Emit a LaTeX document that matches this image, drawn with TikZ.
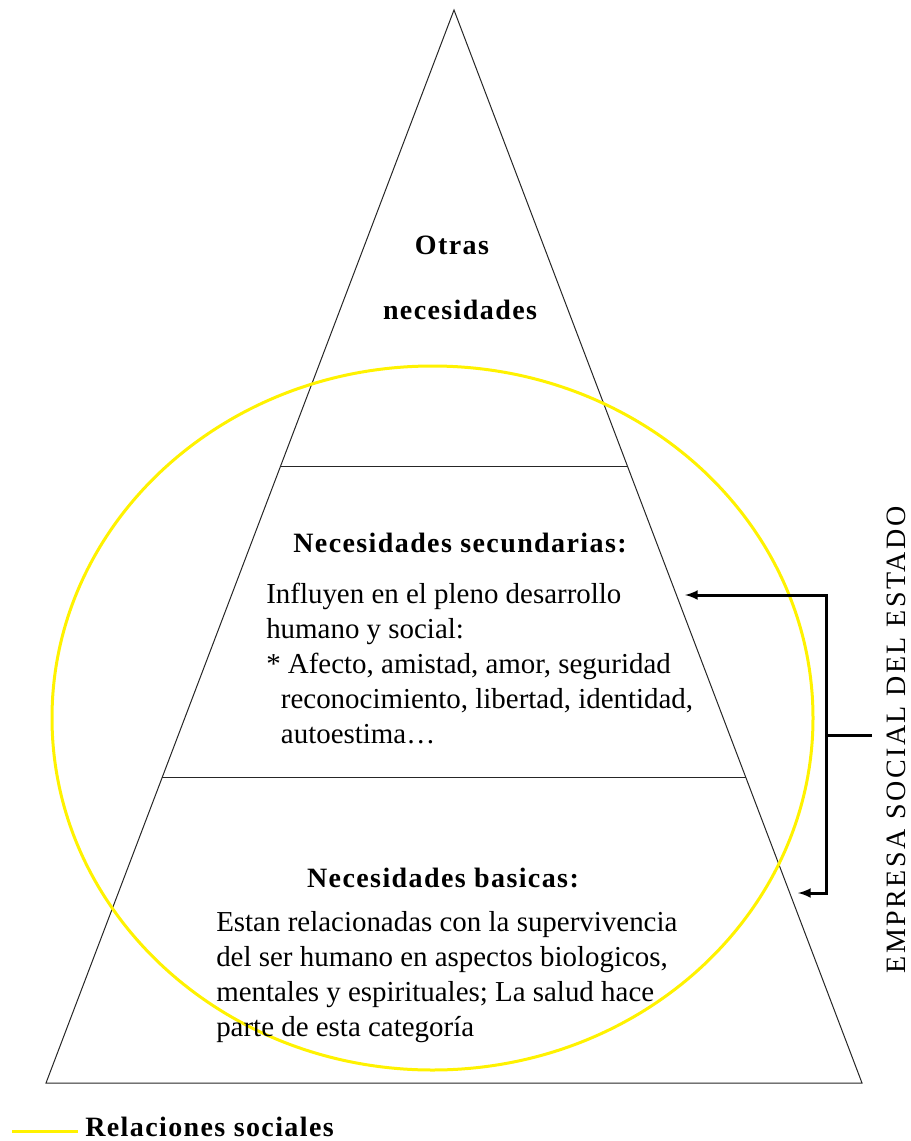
\documentclass[tikz,border=0pt]{standalone}
\usepackage{fontspec}
\setmainfont{Liberation Serif}
\usetikzlibrary{calc}
\tikzset{%
pyramid/.style={draw=black!85,line width=0.75pt},
social/.style={draw=yellow,line width=2.25pt},
service/.style={draw,line width=2.25pt,-latex},
heading/.style={font=\fontsize{21}{26}\selectfont\bfseries\addfontfeature{LetterSpace=5}, inner sep=0pt},
content/.style={font=\fontsize{21.7}{26.25}\selectfont, align=left, inner sep=0pt, anchor=north west},
agency/.style={font=\fontsize{21}{26}\selectfont\addfontfeature{LetterSpace=9}, inner sep=0pt, rotate=90}
}

\begin{document}
\begin{tikzpicture}[x=0.75pt,y=-0.75pt]
\useasboundingbox (0,0) rectangle (910,1141);
\coordinate (top)   at (454,10);
\coordinate (baseL) at (46,1083);
\coordinate (baseR) at (862,1083);
\coordinate (cut1L) at ($(top)!0.425!(baseL)$);
\coordinate (cut1R) at ($(top)!0.425!(baseR)$);
\coordinate (cut2L) at ($(top)!0.7157!(baseL)$);
\coordinate (cut2R) at ($(top)!0.7157!(baseR)$);
\coordinate (ring)  at (432.5,718);

\draw[pyramid] (top) -- (baseL) -- (baseR) -- cycle;
\draw[pyramid] (cut1L) -- (cut1R);
\draw[pyramid] (cut2L) -- (cut2R);
\draw[social] (ring) ellipse [x radius=380.5, y radius=352];

\node[heading] (otras)  at (452,245) {Otras};
\node[heading] (neces)  at (460,310) {necesidades};
\node[heading] (second) at (460,543) {Necesidades secundarias:};
\node[content] (secbody) at (266,583) {Influyen en el pleno desarrollo\\
                                       humano y social:\\
                                       * Afecto, amistad, amor, seguridad\\
                                       \hspace*{11pt}reconocimiento, libertad, identidad,\\
                                       \hspace*{11pt}autoestima\dots};
\node[heading] (basic)  at (443,878) {Necesidades basicas:};
\node[content] (basbody) at (216,911) {Estan relacionadas con la supervivencia\\
                                       del ser humano en aspectos biologicos,\\
                                       mentales y espirituales; La salud hace\\
                                       parte de esta categoría};

\node[agency]  (empresa) at (896.5,740) {EMPRESA SOCIAL DEL ESTADO};
\coordinate (to2)   at (685,595);
\coordinate (to1)   at (798,893);
\coordinate (spine) at (826,735);
\coordinate (hub)   at (872,735);
\draw[service] (spine) |- (to2);
\draw[service] (spine) |- (to1);
\draw[line width=2.25pt] (hub) -- (spine);

% legend
\coordinate (keyA) at (12,1131);
\coordinate (keyB) at (78,1131);
\draw[social] (keyA) -- (keyB);
\node[heading,anchor=west] (key) at (85,1127) {Relaciones sociales};
\end{tikzpicture}
\end{document}
